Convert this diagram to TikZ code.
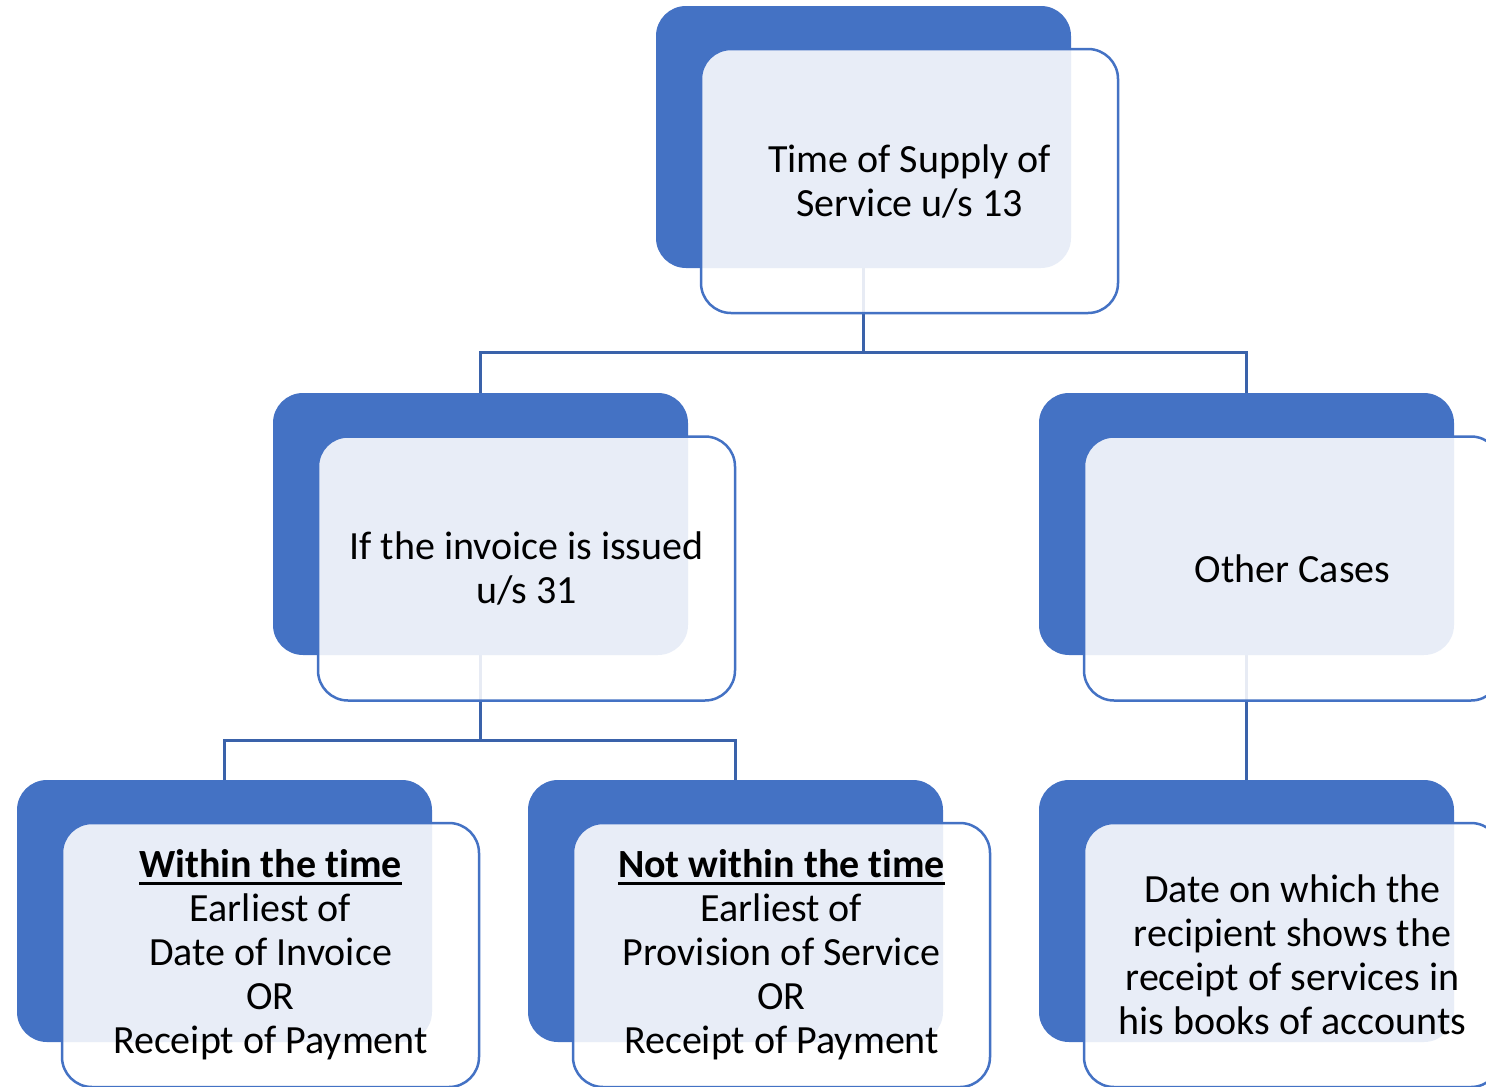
\documentclass[tikz,border=0pt]{standalone}
\usepackage{fontspec}
\setmainfont{Carlito}[Ligatures=NoCommon]
\definecolor{accent}{HTML}{4472C4}
\definecolor{linkblue}{HTML}{3A62AA}
\pgfdeclarelayer{bg}
\pgfsetlayers{bg,main}
% bold heading with a thick underline
\newcommand\headline[1]{\setbox0\hbox{\bfseries #1}\rlap{\rule[-7pt]{\wd0}{2.5pt}}\box0}
\tikzset{
  backcard/.style={fill=accent, rounded corners=30pt, minimum width=415pt,
    minimum height=262pt, inner sep=0pt},
  frontcard/.style={draw=accent, line width=2.5pt, fill=white, fill opacity=0.88,
    text opacity=1, rounded corners=30pt, minimum width=417pt, minimum height=264pt,
    inner sep=0pt, align=center, font=\fontsize{40}{44}\selectfont},
  link/.style={draw=linkblue, line width=3pt}
}
\begin{document}
\begin{tikzpicture}[x=1pt,y=-1pt]
\useasboundingbox (0,0) rectangle (1486,1087);

% level 0
\node[backcard] (topB) at (863.5,137) {};
\node[frontcard] (topF) at (909.5,181) {Time of Supply of\\Service u/s 13};

% level 1
\node[backcard] (midLB) at (480.5,524) {};
\node[frontcard] (midLF) at (526.5,568.5) {If the invoice is issued\\u/s 31};
\node[backcard] (midRB) at (1246.5,524) {};
\node[frontcard] (midRF) at (1292.5,568.5) {Other Cases};

% level 2
\node[backcard] (lowAB) at (224.5,911) {};
\node[frontcard] (lowAF) at (270.5,955) {\headline{Within the time}\\Earliest of\\Date of Invoice\\OR\\Receipt of Payment};
\node[backcard] (lowBB) at (735.5,911) {};
\node[frontcard] (lowBF) at (781.5,955) {\headline{Not within the time}\\Earliest of\\Provision of Service\\OR\\Receipt of Payment};
\node[backcard] (lowCB) at (1246.5,911) {};
\node[frontcard] (lowCF) at (1292.5,955) {Date on which the\\recipient shows the\\receipt of services in\\his books of accounts};

% connectors, kept behind the cards
\begin{pgfonlayer}{bg}
  \coordinate (busTop) at ([yshift=-84pt]topB.south);
  \draw[link] (topB.south) -- (busTop);
  \draw[link] (busTop) -| (midLB.north);
  \draw[link] (busTop) -| (midRB.north);
  \coordinate (busMid) at ([yshift=-85pt]midLB.south);
  \draw[link] (midLB.south) -- (busMid);
  \draw[link] (busMid) -| (lowAB.north);
  \draw[link] (busMid) -| (lowBB.north);
  \draw[link] (midRB.south) -- (lowCB.north);
\end{pgfonlayer}
\end{tikzpicture}
\end{document}
